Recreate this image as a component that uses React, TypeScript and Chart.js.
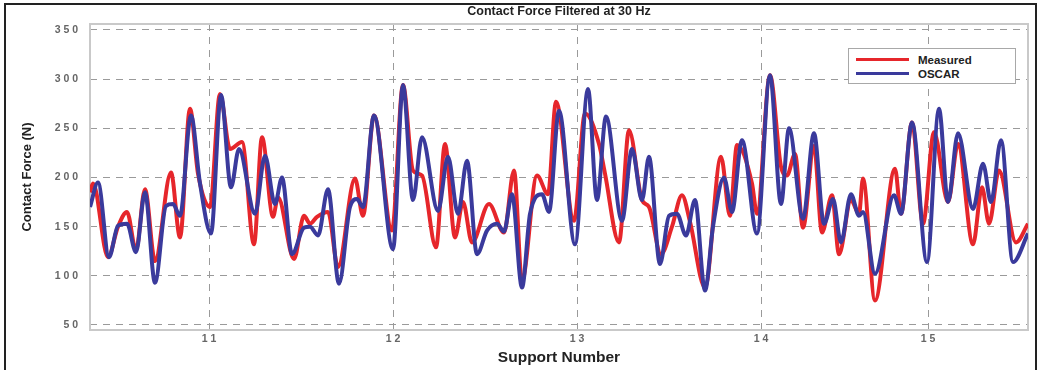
import React, { useEffect, useRef } from "react";
import { Chart, registerables } from "chart.js";

Chart.register(...registerables);

// Support positions along the track (m) and their labels
const supportPositions = [0, 55.2, 110.4, 165.6, 215.7];
const supportLabels = ["1 1", "1 2", "1 3", "1 4", "1 5"];

// Y tick values and labels
const forceTicks = [50, 100, 150, 200, 250, 300, 350];
const forceTickLabels = ["5 0", "1 0 0", "1 5 0", "2 0 0", "2 5 0", "3 0 0", "3 5 0"];

// Measured contact force (distance in m, force in N)
const measuredDistance = [
  -35.7, -34.8, -30.3, -27.3, -24.6, -21.9, -19.2, -16.2, -11.4, -8.7, -5.7, -3.3, 0.3, 3.3, 6.3, 9.9,
  13.5, 15.9, 19.2, 20.7, 25.5, 28.5, 30.3, 32.4, 35.7, 38.7, 43.8, 46.2, 49.5, 54.9, 58.2, 61.2, 63.9,
  68.1, 70.8, 73.8, 76.2, 78.9, 84.0, 88.5, 91.5, 93.9, 98.4, 101.7, 104.1, 109.5, 112.8, 117.0, 118.8,
  123.0, 126.0, 129.9, 132.0, 135.6, 138.9, 141.9, 144.3, 148.8, 153.6, 156.3, 158.4, 162.9, 164.4,
  168.3, 171.6, 173.4, 175.8, 178.2, 181.5, 183.9, 186.9, 189.0, 192.6, 195.0, 196.2, 199.8, 205.8,
  207.6, 210.9, 214.2, 217.5, 221.7, 224.7, 229.2, 231.9, 234.0, 237.0, 242.1, 245.7,
];
const measuredForce = [
  185, 194, 119, 150, 165, 126, 188, 115, 205, 139, 270, 204, 170, 285, 229, 236,
  132, 241, 160, 180, 117, 161, 153, 160, 165, 109, 199, 161, 263, 146, 294, 207, 202,
  129, 234, 139, 175, 134, 173, 144, 207, 95, 202, 183, 277, 156, 265, 234, 204,
  134, 248, 177, 170, 122, 150, 182, 155, 88, 221, 161, 233, 194, 163,
  304, 211, 202, 224, 149, 232, 144, 182, 122, 177, 163, 199, 75, 209,
  163, 256, 153, 246, 175, 234, 132, 190, 153, 207, 134, 153,
];

// OSCAR simulated contact force
const oscarDistance = [
  -35.7, -33.3, -30.0, -27.3, -24.6, -21.9, -19.2, -16.2, -12.9, -10.8, -8.7, -5.4, -2.7, 0.6, 3.6, 6.6,
  9.0, 13.8, 16.8, 19.8, 21.9, 24.9, 28.5, 30.3, 32.7, 35.7, 39.0, 42.3, 44.4, 46.2, 49.5, 55.2, 58.2,
  61.2, 63.9, 68.7, 71.7, 74.7, 77.4, 80.4, 83.4, 86.4, 88.5, 90.9, 93.9, 96.3, 99.9, 102.0, 105.0,
  109.8, 113.7, 116.4, 119.1, 123.9, 126.9, 129.9, 132.0, 135.3, 138.0, 140.4, 143.1, 145.8, 148.8,
  151.2, 154.5, 156.9, 159.9, 164.4, 168.3, 171.6, 174.0, 178.2, 181.5, 184.5, 187.2, 189.6, 192.6,
  195.0, 196.2, 199.8, 205.5, 207.6, 210.9, 215.4, 219.0, 221.7, 224.7, 229.2, 232.2, 234.6, 237.6,
  241.2, 245.7,
];
const oscarForce = [
  170, 195, 119, 151, 153, 124, 185, 93, 171, 173, 161, 263, 194, 143, 284, 190,
  229, 163, 222, 173, 200, 122, 149, 150, 141, 188, 92, 170, 178, 170, 263, 127, 294,
  177, 241, 166, 221, 163, 217, 122, 146, 153, 145, 183, 88, 163, 183, 165, 268,
  132, 290, 177, 262, 156, 229, 177, 221, 112, 161, 163, 141, 177, 85,
  150, 200, 165, 238, 143, 304, 173, 250, 158, 245, 153, 178, 134, 183,
  161, 165, 102, 182, 163, 256, 114, 270, 175, 245, 168, 214, 175, 238,
  114, 143,
];

const RED = "#e6262b";
const BLUE = "#3a3a9c";
const FONT = "'Liberation Sans', Arial, sans-serif";

const boxPlugin = {
  id: "axesBox",
  beforeDatasetsDraw(chart: any) {
    const { ctx, chartArea } = chart;
    ctx.save();
    ctx.strokeStyle = "#c9c9c9";
    ctx.lineWidth = 2;
    ctx.strokeRect(chartArea.left, chartArea.top, chartArea.right - chartArea.left, chartArea.bottom - chartArea.top);
    ctx.restore();
  },
};

export default function App() {
  const canvasRef = useRef<HTMLCanvasElement | null>(null);

  useEffect(() => {
    if (!canvasRef.current) return;
    const chart = new Chart(canvasRef.current, {
      type: "line",
      data: {
        datasets: [
          {
            label: "Measured",
            data: measuredDistance.map((d, i) => ({ x: d, y: measuredForce[i] })),
            borderColor: RED,
            backgroundColor: RED,
            borderWidth: 4,
            pointRadius: 0,
            cubicInterpolationMode: "monotone",
            order: 1,
          },
          {
            label: "OSCAR",
            data: oscarDistance.map((d, i) => ({ x: d, y: oscarForce[i] })),
            borderColor: BLUE,
            backgroundColor: BLUE,
            borderWidth: 4,
            pointRadius: 0,
            cubicInterpolationMode: "monotone",
            order: 0,
          },
        ],
      },
      options: {
        animation: false,
        responsive: false,
        devicePixelRatio: 1,
        layout: { padding: { left: 0, right: 10, top: 0, bottom: 0 } },
        plugins: {
          legend: { display: false },
          tooltip: { enabled: false },
          title: {
            display: true,
            text: "Contact Force Filtered at 30 Hz",
            fullSize: false,
            color: "#222",
            font: { family: FONT, size: 12.5, weight: "bold" },
            padding: { top: 4.5, bottom: 4.5 },
          },
        },
        scales: {
          x: {
            type: "linear",
            min: -35.7,
            max: 245.7,
            afterBuildTicks: (s: any) => {
              s.ticks = supportPositions.map((v) => ({ value: v }));
            },
            afterFit: (s: any) => {
              s.height = 40;
            },
            ticks: {
              autoSkip: false,
              maxRotation: 0,
              padding: 3,
              color: "#666",
              font: { family: FONT, size: 10.5, weight: "bold" },
              callback: (_v: any, i: number) => supportLabels[i],
            },
            grid: { color: "#9a9a9a", lineWidth: 1, drawTicks: false },
            border: { display: false, dash: [7, 6] },
            title: {
              display: true,
              text: "Support Number",
              color: "#222",
              font: { family: FONT, size: 15.5, weight: "bold" },
              padding: { top: 0, bottom: 3 },
            },
          },
          y: {
            type: "linear",
            min: 44.9,
            max: 356.1,
            afterBuildTicks: (s: any) => {
              s.ticks = forceTicks.map((v) => ({ value: v }));
            },
            afterFit: (s: any) => {
              s.width = 90;
            },
            ticks: {
              autoSkip: false,
              padding: 12,
              color: "#666",
              font: { family: FONT, size: 10.5, weight: "bold" },
              callback: (_v: any, i: number) => forceTickLabels[i],
            },
            grid: { color: "#9a9a9a", lineWidth: 1, drawTicks: false },
            border: { display: false, dash: [7, 6] },
            title: {
              display: true,
              text: "Contact Force (N)",
              color: "#222",
              font: { family: FONT, size: 13, weight: "bold" },
              padding: { top: 20, bottom: 0 },
            },
          },
        },
      },
      plugins: [boxPlugin],
    } as any);
    return () => chart.destroy();
  }, []);

  const legendText: React.CSSProperties = {
    position: "absolute",
    left: 69,
    fontFamily: FONT,
    fontWeight: "bold",
    fontSize: 11.5,
    color: "#222",
    lineHeight: "12px",
  };

  return (
    <div style={{ position: "absolute", left: 0, top: 0, width: 1038, height: 370, background: "#fff", overflow: "hidden" }}>
      <canvas ref={canvasRef} width={1038} height={370} style={{ position: "absolute", left: 0, top: 0 }} />
      <div
        style={{
          position: "absolute",
          left: 848,
          top: 48,
          width: 166,
          height: 34,
          border: "1px solid #a8a8a8",
          background: "#fff",
        }}
      >
        <div style={{ position: "absolute", left: 7, top: 9, width: 53, height: 3, background: RED }} />
        <div style={{ ...legendText, top: 5 }}>Measured</div>
        <div style={{ position: "absolute", left: 7, top: 23, width: 53, height: 3, background: BLUE }} />
        <div style={{ ...legendText, top: 19 }}>OSCAR</div>
      </div>
      <div
        style={{
          position: "absolute",
          left: 4,
          top: 3,
          width: 1029,
          height: 400,
          borderLeft: "2.5px solid #222",
          borderTop: "2.5px solid #222",
          borderRight: "2.5px solid #222",
          pointerEvents: "none",
        }}
      />
    </div>
  );
}
